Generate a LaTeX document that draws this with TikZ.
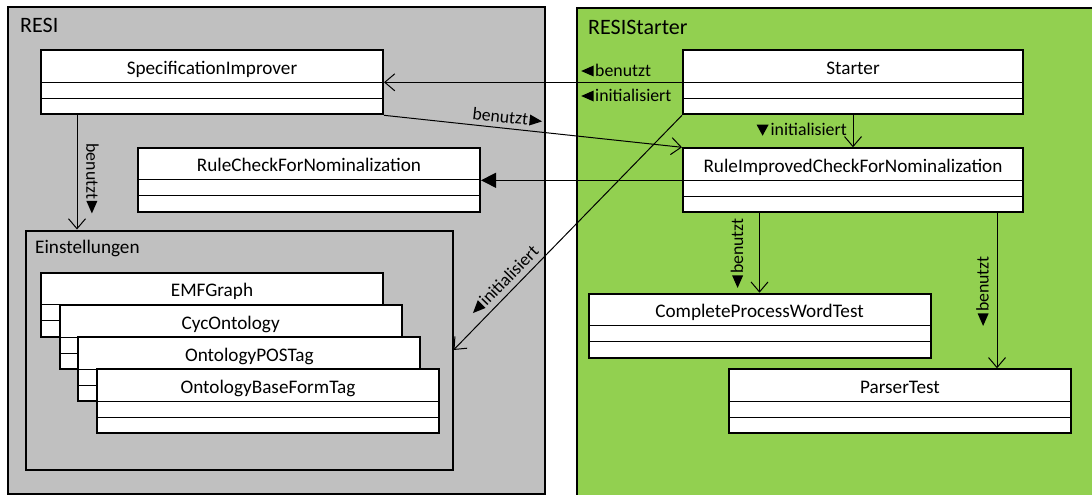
\documentclass[tikz,border=0pt]{standalone}
\usepackage{fontspec}
\setmainfont{Carlito}
\usetikzlibrary{arrows.meta}

\definecolor{pkggray}{HTML}{C0C0C0}
\definecolor{pkggreen}{HTML}{92D050}

% solid direction markers used inside the association labels
\newcommand\triL{\tikz[x=1pt,y=1pt,baseline=0pt]\fill (0,5.5)--(12.5,11)--(12.5,0)--cycle;\hspace{1.5pt}}
\newcommand\triR{\hspace{1.5pt}\tikz[x=1pt,y=1pt,baseline=0pt]\fill (0,0)--(0,11)--(12.5,5.5)--cycle;}
\newcommand\triD{\tikz[x=1pt,y=1pt,baseline=0pt]\fill (0,11)--(12,11)--(6,0)--cycle;\hspace{2pt}}

\begin{document}
\begin{tikzpicture}[x=1pt,y=-1pt,
  cls/.style={draw, line width=2pt, fill=white, inner sep=0pt,
    minimum width=342pt, minimum height=64pt,
    text height=24pt, text depth=40pt,
    font=\fontsize{19.2}{22}\selectfont,
    path picture={\draw[line width=0.9pt]
      ([yshift=-32pt]path picture bounding box.north west) --
      ([yshift=-32pt]path picture bounding box.north east)
      ([yshift=-48pt]path picture bounding box.north west) --
      ([yshift=-48pt]path picture bounding box.north east);}},
  pkg/.style={draw, line width=2pt, inner sep=0pt, anchor=north west},
  pkgtitle/.style={anchor=base west, inner sep=0pt, font=\fontsize{22}{24}\selectfont},
  uses/.style={line width=1pt, -{Straight Barb[length=10pt,width=17pt]}},
  gen/.style={line width=1pt, -{Triangle[length=15pt,width=15pt]}},
  lab/.style={inner sep=0pt, font=\fontsize{17.8}{20}\selectfont}]

\useasboundingbox (0,0) rectangle (1092,495);
\clip (0,0) rectangle (1092,495);
\fill[white] (0,0) rectangle (1092,495);

% packages
\node[pkg, fill=pkggray, minimum width=537pt, minimum height=487pt] (resi) at (7,6) {};
\node[pkgtitle] (resititle) at (20,33) {RESI};
\node[pkg, fill=pkggreen, minimum width=540pt, minimum height=500pt] (starterpkg) at (576,7.5) {};
\node[pkgtitle] (startertitle) at (588,34.3) {RESIStarter};
\node[pkg, fill=pkggray, minimum width=427pt, minimum height=239pt] (einst) at (24.5,229.5) {};
\node[anchor=base west, inner sep=0pt, font=\fontsize{19.2}{22}\selectfont] (einsttitle) at (35,253.3) {Einstellungen};

% classes
\node[cls, anchor=north west] (spec)    at (40,49.3)   {SpecificationImprover};
\node[cls, anchor=north west] (rcheck)  at (137,146.7) {RuleCheckForNominalization};
\node[cls, anchor=north west, minimum width=340pt] (starter) at (682,49.3)  {Starter};
\node[cls, anchor=north west, minimum width=340pt] (rimpr)   at (682,147.3) {RuleImprovedCheckForNominalization};
\node[cls, anchor=north west] (emf)     at (40,271.7)  {EMFGraph};
\node[cls, anchor=north west] (cyc)     at (58.7,304)  {CycOntology};
\node[cls, anchor=north west] (postag)  at (77.4,336)  {OntologyPOSTag};
\node[cls, anchor=north west] (base)    at (96,368.3)  {OntologyBaseFormTag};
\node[cls, anchor=north west] (cpwt)    at (587.5,292.7) {CompleteProcessWordTest};
\node[cls, anchor=north west] (parser)  at (728,368.3) {ParserTest};

% associations
\draw[uses] (starter.west) -- (starter.west -| spec.east);
\node[lab, anchor=base west] (lbenutzt) at (581,76.5) {\triL benutzt};
\node[lab, anchor=base west] (linit) at (581,101.5) {\triL initialisiert};

\draw[uses] (spec.south east) -- (rimpr.north west)
  node[lab, pos=0.41, sloped, above=5pt] (lspec) {benutzt\triR};

\draw[gen] (rimpr.west) -- (rimpr.west -| rcheck.east);

\draw[uses] (starter.south) -- (rimpr.north);
\node[lab, anchor=base east] (linit2) at (847,135.7) {\triD initialisiert};

\draw[uses] ([xshift=37pt]spec.south west) -- ([xshift=37pt]spec.south west |- einst.north);
\node[lab, rotate=-90] (lspecein) at (92.5,178.5) {benutzt\triR};

\draw[uses] (starter.south west) -- (einst.east)
  node[lab, pos=0.74, sloped, above=6pt] (linit3) {\triL initialisiert};

\draw[uses] (cpwt.north |- rimpr.south) -- (cpwt.north);
\node[lab, rotate=90] (lcpwt) at (737,253) {\triL benutzt};

\draw[uses] ([xshift=144pt]rimpr.south) -- ([xshift=144pt]rimpr.south |- parser.north);
\node[lab, rotate=90] (lparser) at (982.5,291) {\triL benutzt};
\end{tikzpicture}
\end{document}
